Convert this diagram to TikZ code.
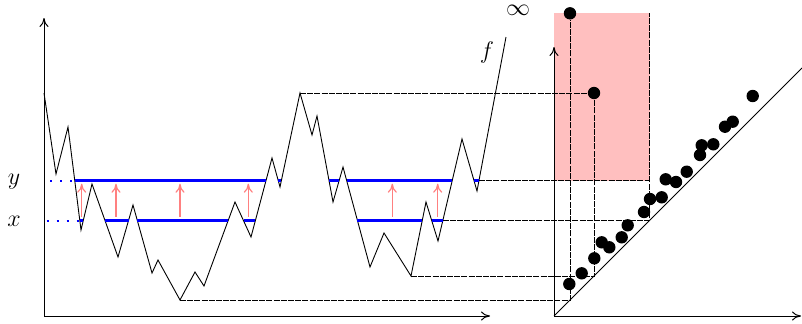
\documentclass[tikz,border=0pt]{standalone}
\usetikzlibrary{arrows.meta}
\definecolor{persRect}{HTML}{FFBFBF}
\definecolor{persUp}{HTML}{FF8080}
\definecolor{persLevel}{HTML}{0000FF}
\tikzset{
  persfig/.style={
    x=0.5pt, y=0.5pt,
    every node/.append style={font=\large},
    >={To[length=4.5pt, width=4.5pt]},
  },
  axisline/.style={draw=black, line width=0.5pt, ->},
  graphline/.style={draw=black, line width=0.45pt},
  levelset/.style={draw=persLevel, line width=1.1pt},
  % Niveau-Hilfslinien links: locker gepunktet
  levelguide/.style={draw=persLevel, line width=1pt, loosely dotted},
  uparrow/.style={draw=persUp, line width=0.6pt, ->},
  proj/.style={draw=black, line width=0.45pt, dash pattern=on 3pt off 0.6pt},
  dgmpoint/.style={circle, fill=black, inner sep=0pt, minimum size=6.2pt},
}
\begin{document}
\begin{tikzpicture}[persfig]
  \useasboundingbox (0,0) rectangle (802,323);
  % Rang-Bereich im Diagramm
  \fill[persRect] (554,142.5) rectangle (649.5,309.7);
  % Achsen
  \coordinate (fOrigin) at (44,7);
  \coordinate (fTop) at (44,305);
  \coordinate (fRight) at (490,7);
  \coordinate (dOrigin) at (554,7);
  \coordinate (dTop) at (554,276);
  \coordinate (dRight) at (801,7);
  \coordinate (dDiag) at (802,255);
  \draw[axisline] (fOrigin) -- (fTop);
  \draw[axisline] (fOrigin) -- (fRight);
  \draw[axisline] (dOrigin) -- (dTop);
  \draw[axisline] (dOrigin) -- (dRight);
  \draw[graphline] (dOrigin) -- (dDiag);
  % Funktion f
  \draw[graphline] (44,230) -- (56,149) -- (68,196) -- (81,93) -- (92,139)
    -- (118,66) -- (133,118) -- (152,50) -- (158,63) -- (180,23) coordinate (gMin)
    -- (195,51) -- (204,37) -- (235,121) -- (251,86) -- (272,165) -- (280,136)
    -- (300,230) coordinate (peak) -- (312,188) -- (317,207) -- (333,121)
    -- (343,156) -- (370,56) -- (384,90) -- (411,47) coordinate (lMin)
    -- (426,121) -- (438,82) -- (462,184) -- (477,132) -- (506,286) coordinate (fEnd);
  \node (fLabel) at (487,271) {$f$};
  \node[inner sep=0pt] (infLabel) at (518,313) {$\infty$};
  \node (yLabel) at (14,141) {$y$};
  \node (xLabel) at (14,102) {$x$};
  % Sublevel-Mengen
  \coordinate (yCut) at (479,142.5);
  \coordinate (xCut) at (442.8,102.5);
  \draw[levelguide] (50,142.5) -- (74.8,142.5);
  \draw[levelguide] (46.7,102.5) -- (79.8,102.5);
  \draw[levelset] (74.8,142.5) -- (266,142.5);
  \draw[levelset] (278.2,142.5) -- (281.4,142.5);
  \draw[levelset] (329,142.5) -- (339.1,142.5);
  \draw[levelset] (346.6,142.5) -- (452.2,142.5);
  \draw[levelset] (474,142.5) -- (yCut);
  \draw[levelset] (79.8,102.5) -- (83.3,102.5);
  \draw[levelset] (105,102.5) -- (128.5,102.5);
  \draw[levelset] (137.3,102.5) -- (228.2,102.5);
  \draw[levelset] (243.5,102.5) -- (255.4,102.5);
  \draw[levelset] (357.4,102.5) -- (422.3,102.5);
  \draw[levelset] (431.7,102.5) -- (xCut);
  \draw[uparrow] (81.7,106.5) -- (81.7,139.3);
  \draw[uparrow] (116,106.5) -- (116,139.3);
  \draw[uparrow] (180,106.5) -- (180,139.3);
  \draw[uparrow] (248.3,106.5) -- (248.3,139.3);
  \draw[uparrow] (392.3,106.5) -- (392.3,139.3);
  \draw[uparrow] (437.7,106.5) -- (437.7,139.3);
  % Persistenzdiagramm
  \node[dgmpoint] (pInf) at (570,309.7) {};
  \node[dgmpoint] (pMax) at (594,230) {};
  \coordinate (xTop) at (649.5,309.7);
  \coordinate (yDgm) at (649.5,142.5);
  \draw[proj] (gMin) -| (pInf);
  \draw[proj] (lMin) -| (pMax);
  \draw[proj] (peak) -- (pMax);
  \draw[proj] (xCut) -| (xTop);
  \draw[proj] (yCut) -- (yDgm);
  \node[dgmpoint] (d1) at (569.3,39) {};
  \node[dgmpoint] (d2) at (581.7,49.7) {};
  \node[dgmpoint] (d3) at (594.3,64.7) {};
  \node[dgmpoint] (d4) at (601.7,80.7) {};
  \node[dgmpoint] (d5) at (609.3,75.7) {};
  \node[dgmpoint] (d6) at (621.7,85.7) {};
  \node[dgmpoint] (d7) at (627.7,97.7) {};
  \node[dgmpoint] (d8) at (644,111) {};
  \node[dgmpoint] (d9) at (650,124) {};
  \node[dgmpoint] (d10) at (661.7,125.7) {};
  \node[dgmpoint] (d11) at (665.7,143.7) {};
  \node[dgmpoint] (d12) at (676,141) {};
  \node[dgmpoint] (d13) at (686.7,151.3) {};
  \node[dgmpoint] (d14) at (700,168) {};
  \node[dgmpoint] (d15) at (701.7,177.7) {};
  \node[dgmpoint] (d16) at (713.3,178.7) {};
  \node[dgmpoint] (d17) at (725,196.3) {};
  \node[dgmpoint] (d18) at (732.7,201.3) {};
  \node[dgmpoint] (d19) at (752.7,227) {};
\end{tikzpicture}
\end{document}
